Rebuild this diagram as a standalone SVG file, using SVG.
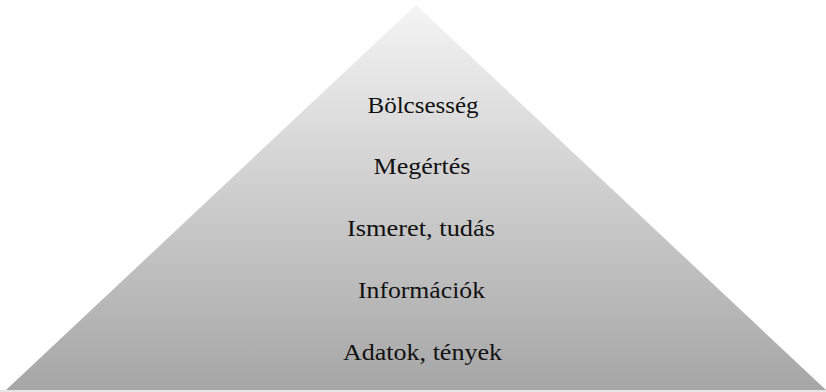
<svg xmlns="http://www.w3.org/2000/svg" width="826" height="392" viewBox="0 0 826 392">
  <defs>
    <linearGradient id="pyrGrad" x1="0" y1="5" x2="0" y2="390" gradientUnits="userSpaceOnUse">
      <stop offset="0" stop-color="#f4f4f4"/>
      <stop offset="1" stop-color="#a6a6a6"/>
    </linearGradient>
  </defs>
  <style>
    .lbl { font-family: "Liberation Serif", "Times New Roman", serif; font-size: 23px; fill: #111111; text-anchor: middle; }
  </style>
  <rect x="0" y="0" width="826" height="392" fill="#ffffff"/>
  <g id="pyramid">
    <polygon points="416,5 6,390 826,390" fill="url(#pyrGrad)"/>
    <rect x="0" y="390" width="826" height="2" fill="#e6e6e6"/>
  </g>
  <g id="level-1"><text class="lbl" x="423" y="113" textLength="111" lengthAdjust="spacingAndGlyphs">Bölcsesség</text></g>
  <g id="level-2"><text class="lbl" x="422" y="174" textLength="97" lengthAdjust="spacingAndGlyphs">Megértés</text></g>
  <g id="level-3"><text class="lbl" x="421" y="236" textLength="148" lengthAdjust="spacingAndGlyphs">Ismeret, tudás</text></g>
  <g id="level-4"><text class="lbl" x="421.5" y="298" textLength="127" lengthAdjust="spacingAndGlyphs">Információk</text></g>
  <g id="level-5"><text class="lbl" x="422.5" y="360" textLength="159" lengthAdjust="spacingAndGlyphs">Adatok, tények</text></g>
  <g id="connectors"/>
</svg>
